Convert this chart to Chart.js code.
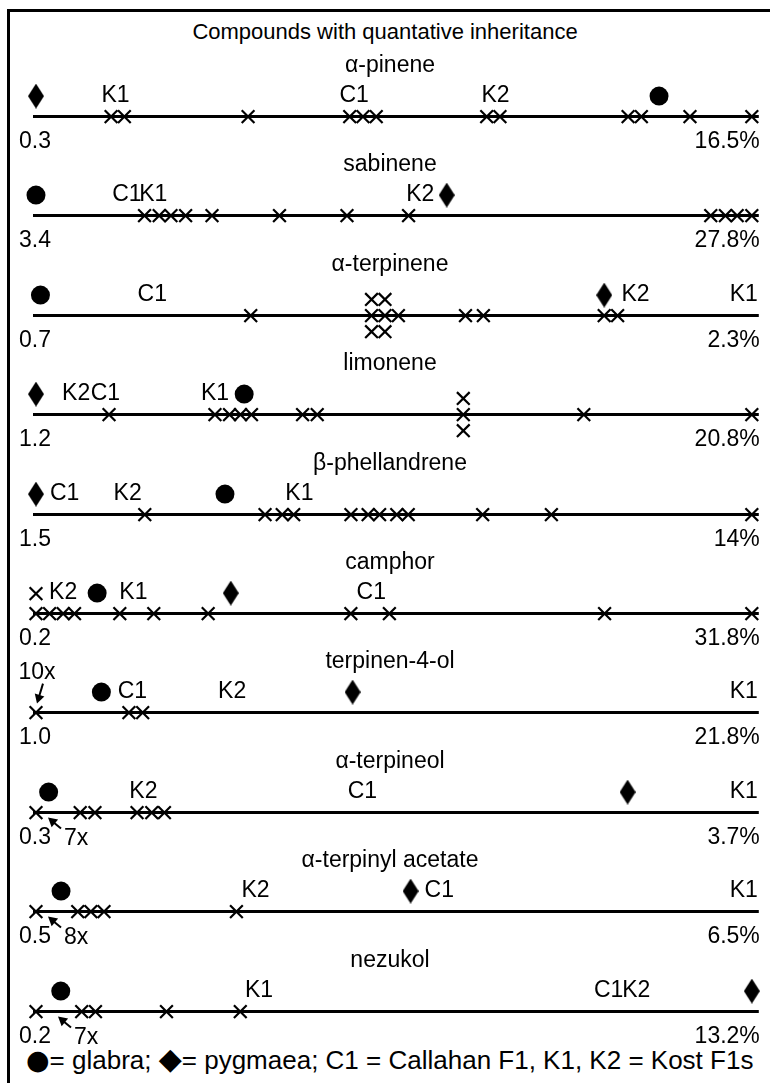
<!DOCTYPE html>
<html>
<head>
<meta charset="utf-8">
<script src="https://cdn.jsdelivr.net/npm/chart.js@4.4.1/dist/chart.umd.min.js"></script>
<style>
html,body{margin:0;padding:0;background:#fff;}
#page{position:relative;width:770px;height:1083px;overflow:hidden;background:#fff;font-family:"Liberation Sans",Arial,sans-serif;color:#000;}
#frame{position:absolute;left:7px;top:9px;width:763px;height:1074px;border-left:3px solid #000;border-top:3px solid #000;box-sizing:border-box;}
#title{position:absolute;left:0;width:770px;top:18px;text-align:center;font-size:22px;line-height:28px;white-space:nowrap;}
#legend{position:absolute;left:26px;top:1045px;font-size:26px;line-height:30px;white-space:nowrap;}
#legend .c{font-family:"DejaVu Sans";font-size:27px;}
#legend .d{font-family:"DejaVu Sans";font-size:30px;line-height:20px;}
canvas{position:absolute;left:0;}
</style>
</head>
<body>
<div id="page">
  <div id="frame"></div>
  <div id="title">Compounds with quantative inheritance</div>
  <div id="legend"><span class="c">●</span>= glabra; <span class="d">◆</span>= pygmaea; C1 = Callahan F1, K1, K2 = Kost F1s</div>
</div>
<script>
// ---------------- data ----------------
const compounds = ['α-pinene','sabinene','α-terpinene','limonene','β-phellandrene','camphor','terpinen-4-ol','α-terpineol','α-terpinyl acetate','nezukol'];
const rangeLow  = [0.3, 3.4, 0.7, 1.2, 1.5, 0.2, 1.0, 0.3, 0.5, 0.2];
const rangeHigh = [16.5, 27.8, 2.3, 20.8, 14, 31.8, 21.8, 3.7, 6.5, 13.2];
const lowLabels  = ['0.3','3.4','0.7','1.2','1.5','0.2','1.0','0.3','0.5','0.2'];
const highLabels = ['16.5%','27.8%','2.3%','20.8%','14%','31.8%','21.8%','3.7%','6.5%','13.2%'];
// parents
const glabra  = [14.4, 3.4, 0.71, 6.9, 4.8, 2.9, 2.9, 0.36, 0.71, 0.65];
const pygmaea = [0.3, 17.4, 1.97, 1.2, 1.5, 8.8, 10.2, 3.11, 3.64, 13.2];
// F1s
const callahanC1 = [7.5, 6.5, 0.96, 3.1, 2.0, 15.0, 3.8, 1.85, 3.88, 10.6];
const kostK1     = [2.1, 7.4, 2.3, 6.1, 6.1, 4.5, 21.8, 3.7, 6.5, 4.25];
const kostK2     = [10.7, 16.5, 2.04, 2.3, 3.1, 1.4, 6.7, 0.81, 2.34, 11.1];
// F2 individuals (one array per compound)
const f2AlphaPinene   = [2.0, 2.3, 5.1, 7.4, 7.7, 8.0, 10.5, 10.8, 13.7, 14.0, 15.1, 16.5];
const f2Sabinene      = [7.1, 7.6, 8.0, 8.5, 9.4, 11.7, 14.0, 16.1, 26.4, 26.9, 27.3, 27.8];
const f2AlphaTerpinene= [1.18, 1.45, 1.48, 1.51, 1.66, 1.70, 1.97, 2.0];
const f2Limonene      = [3.2, 6.1, 6.5, 6.8, 7.1, 8.5, 8.9, 12.9, 16.2, 20.8];
const f2BetaPhell     = [3.4, 5.5, 5.8, 6.0, 7.0, 7.3, 7.5, 7.8, 8.0, 9.3, 10.5, 14];
const f2Camphor       = [0.2, 0.8, 1.4, 1.9, 3.9, 5.4, 7.8, 14.1, 15.8, 25.3, 31.8];
const f2Terpinen4ol   = [1.0, 3.7, 4.1];
const f2AlphaTerpineol= [0.3, 0.51, 0.58, 0.78, 0.85, 0.91];
const f2TerpinylAcet  = [0.5, 0.85, 0.96, 1.07, 2.18];
const f2Nezukol       = [0.2, 1.03, 1.28, 2.57, 3.91];
const f2OnLine = [f2AlphaPinene, f2Sabinene, f2AlphaTerpinene, f2Limonene, f2BetaPhell, f2Camphor, f2Terpinen4ol, f2AlphaTerpineol, f2TerpinylAcet, f2Nezukol];
// F2 individuals stacked above / below the line (tied values)
const f2Above = [[], [], [1.45, 1.48], [12.9], [], [0.2], [], [], [], []];
const f2Below = [[], [], [1.45, 1.48], [12.9], [], [], [], [], [], []];
// number of F2 individuals sharing the lowest value
const repeatCounts = [0, 0, 0, 0, 0, 0, 10, 7, 8, 7];

// ---------------- style ----------------
const FONT = '23px "Liberation Sans", Arial, sans-serif';
const Y_MIN = -1.5, Y_MAX = 2.0;
const LABEL_Y = 1.22, ROW_Y = 0.96, RANGE_TEXT_Y = -1.47;
const aboveRowY = [ROW_Y, ROW_Y, ROW_Y, ROW_Y, ROW_Y, 1.19, ROW_Y, ROW_Y, ROW_Y, ROW_Y];
const notePlace = ['', '', '', '', '', '', 'above', 'below', 'below', 'below'];
const noteShift = [0, 0, 0, 0, 0, 0, 0, 0, 0, 10];

function makeDiamond(w, h) {
  const c = document.createElement('canvas');
  c.width = w; c.height = h;
  const g = c.getContext('2d');
  g.fillStyle = '#000';
  g.beginPath();
  g.moveTo(w / 2, 0); g.lineTo(w, h / 2); g.lineTo(w / 2, h); g.lineTo(0, h / 2);
  g.closePath(); g.fill();
  return c;
}
const diamond = makeDiamond(16, 25);

function drawArrow(ctx, x1, y1, x2, y2) {
  const a = Math.atan2(y2 - y1, x2 - x1), L = 9, W = 5;
  ctx.beginPath(); ctx.moveTo(x1, y1);
  ctx.lineTo(x2 - Math.cos(a) * L * 0.7, y2 - Math.sin(a) * L * 0.7); ctx.stroke();
  ctx.beginPath();
  ctx.moveTo(x2, y2);
  ctx.lineTo(x2 - Math.cos(a) * L - Math.sin(a) * W, y2 - Math.sin(a) * L + Math.cos(a) * W);
  ctx.lineTo(x2 - Math.cos(a) * L + Math.sin(a) * W, y2 - Math.sin(a) * L - Math.cos(a) * W);
  ctx.closePath(); ctx.fill();
}

const panelPlugin = {
  id: 'panel',
  beforeDatasetsDraw(chart) {
    const {ctx, chartArea, scales: {y}} = chart;
    const y0 = y.getPixelForValue(0);
    ctx.save();
    ctx.strokeStyle = '#000'; ctx.lineWidth = 3;
    ctx.beginPath(); ctx.moveTo(chartArea.left, y0); ctx.lineTo(chartArea.right, y0); ctx.stroke();
    ctx.restore();
  },
  afterDatasetsDraw(chart, args, opts) {
    const i = opts.index;
    const {ctx, chartArea, scales: {x, y}} = chart;
    const y0 = y.getPixelForValue(0);
    ctx.save();
    ctx.fillStyle = '#000'; ctx.strokeStyle = '#000';
    ctx.font = FONT; ctx.textBaseline = 'middle';
    // compound name
    ctx.textAlign = 'center';
    ctx.fillText(compounds[i], 390, 13);
    // F1 labels
    const ly = y.getPixelForValue(LABEL_Y);
    [['C1', callahanC1[i]], ['K1', kostK1[i]], ['K2', kostK2[i]]].forEach(([t, v]) => {
      const w = ctx.measureText(t).width;
      let px = x.getPixelForValue(v);
      px = Math.min(px, chartArea.right - 1 - w / 2);
      ctx.fillText(t, px, ly);
    });
    // range labels
    const ry = y.getPixelForValue(RANGE_TEXT_Y);
    ctx.textAlign = 'left'; ctx.fillText(lowLabels[i], 19, ry);
    ctx.textAlign = 'right'; ctx.fillText(highLabels[i], chartArea.right + 1, ry);
    // repeat note
    if (repeatCounts[i] > 0) {
      const px0 = x.getPixelForValue(rangeLow[i]);
      const t = repeatCounts[i] + 'x';
      ctx.lineWidth = 2;
      if (notePlace[i] === 'above') {
        ctx.textAlign = 'center';
        ctx.fillText(t, px0 + 1, y0 - 40);
        drawArrow(ctx, px0 + 7, y0 - 29, px0 + 1, y0 - 9);
      } else {
        const d = noteShift[i];
        drawArrow(ctx, px0 + 25 + d, y0 + 16, px0 + 12 + d, y0 + 5);
        ctx.textAlign = 'left';
        ctx.fillText(t, px0 + 28 + d, y0 + 26);
      }
    }
    ctx.restore();
  }
};

const page = document.getElementById('page');
const xStyle = {pointStyle: 'crossRot', pointRadius: 9, borderColor: '#000', borderWidth: 2.2, clip: false, showLine: false};
for (let i = 0; i < compounds.length; i++) {
  const cv = document.createElement('canvas');
  cv.width = 770; cv.height = 100;
  cv.style.width = '770px'; cv.style.height = '100px';
  cv.style.top = Math.round(53 + 99.4 * i) + 'px';
  page.appendChild(cv);
  const lo = rangeLow[i], hi = rangeHigh[i], r = hi - lo;
  new Chart(cv, {
    type: 'scatter',
    data: {
      datasets: [
        Object.assign({data: f2OnLine[i].map(v => ({x: v, y: 0}))}, xStyle),
        Object.assign({data: f2Above[i].map(v => ({x: v, y: aboveRowY[i]}))}, xStyle),
        Object.assign({data: f2Below[i].map(v => ({x: v, y: -ROW_Y}))}, xStyle),
        {data: [{x: glabra[i], y: LABEL_Y}], pointStyle: 'circle', pointRadius: 9.5, backgroundColor: '#000', borderColor: '#000', borderWidth: 0, clip: false},
        {data: [{x: pygmaea[i], y: LABEL_Y}], pointStyle: diamond, pointRadius: 10, clip: false}
      ]
    },
    options: {
      responsive: false, maintainAspectRatio: false, animation: false, events: [],
      layout: {padding: {left: 33, right: 8, top: 30, bottom: 0}},
      scales: {
        x: {type: 'linear', display: false, min: lo - 3 * r / 719, max: hi + 7 * r / 719},
        y: {type: 'linear', display: false, min: Y_MIN, max: Y_MAX}
      },
      plugins: {legend: {display: false}, tooltip: {enabled: false}, title: {display: false}, panel: {index: i}}
    },
    plugins: [panelPlugin]
  });
}
</script>
</body>
</html>
